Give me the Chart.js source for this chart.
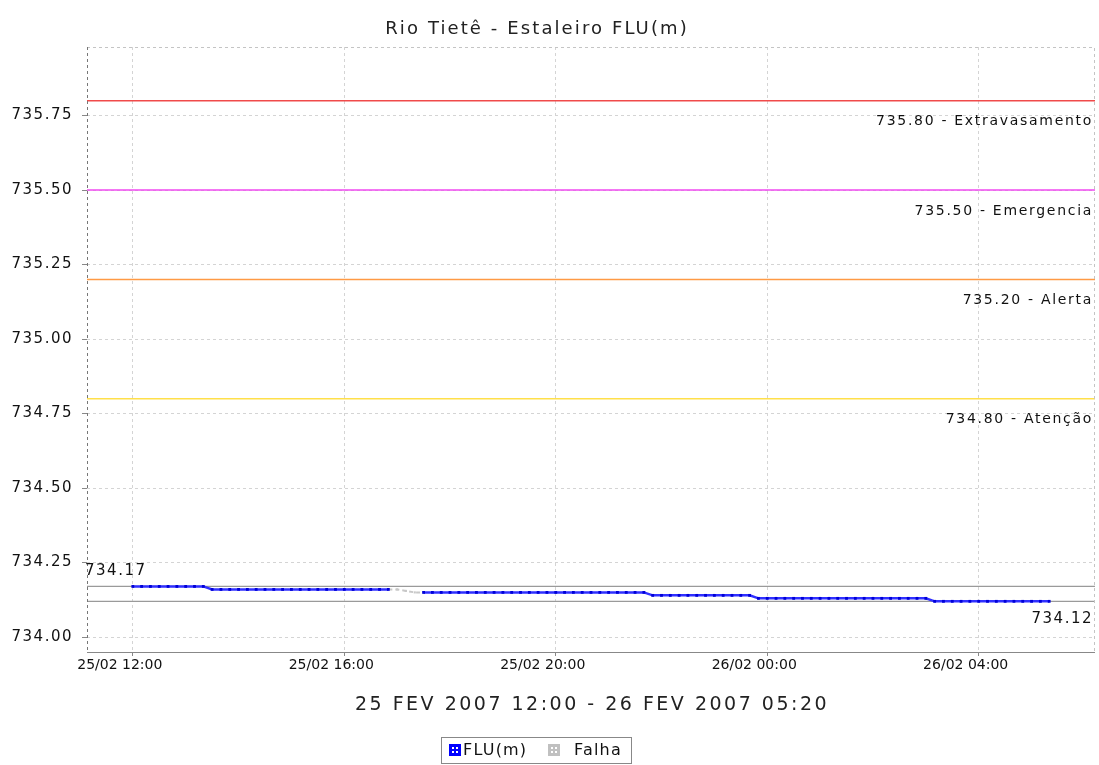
<!DOCTYPE html>
<html>
<head>
<meta charset="utf-8">
<script src="https://cdn.jsdelivr.net/npm/chart.js@4.4.1/dist/chart.umd.min.js"></script>
<style>
  html, body { margin: 0; padding: 0; background: #fff; }
  #wrap { width: 1099px; height: 765px; }
</style>
</head>
<body>
<div id="wrap"><canvas id="myChart" width="1099" height="765"></canvas></div>
<script>
// Dados do posto - leituras a cada 10 minutos
const horarios = [
  '25/02 12:00','25/02 12:10','25/02 12:20','25/02 12:30','25/02 12:40','25/02 12:50',
  '25/02 13:00','25/02 13:10','25/02 13:20','25/02 13:30','25/02 13:40','25/02 13:50',
  '25/02 14:00','25/02 14:10','25/02 14:20','25/02 14:30','25/02 14:40','25/02 14:50',
  '25/02 15:00','25/02 15:10','25/02 15:20','25/02 15:30','25/02 15:40','25/02 15:50',
  '25/02 16:00','25/02 16:10','25/02 16:20','25/02 16:30','25/02 16:40','25/02 16:50',
  '25/02 17:00','25/02 17:10','25/02 17:20','25/02 17:30','25/02 17:40','25/02 17:50',
  '25/02 18:00','25/02 18:10','25/02 18:20','25/02 18:30','25/02 18:40','25/02 18:50',
  '25/02 19:00','25/02 19:10','25/02 19:20','25/02 19:30','25/02 19:40','25/02 19:50',
  '25/02 20:00','25/02 20:10','25/02 20:20','25/02 20:30','25/02 20:40','25/02 20:50',
  '25/02 21:00','25/02 21:10','25/02 21:20','25/02 21:30','25/02 21:40','25/02 21:50',
  '25/02 22:00','25/02 22:10','25/02 22:20','25/02 22:30','25/02 22:40','25/02 22:50',
  '25/02 23:00','25/02 23:10','25/02 23:20','25/02 23:30','25/02 23:40','25/02 23:50',
  '26/02 00:00','26/02 00:10','26/02 00:20','26/02 00:30','26/02 00:40','26/02 00:50',
  '26/02 01:00','26/02 01:10','26/02 01:20','26/02 01:30','26/02 01:40','26/02 01:50',
  '26/02 02:00','26/02 02:10','26/02 02:20','26/02 02:30','26/02 02:40','26/02 02:50',
  '26/02 03:00','26/02 03:10','26/02 03:20','26/02 03:30','26/02 03:40','26/02 03:50',
  '26/02 04:00','26/02 04:10','26/02 04:20','26/02 04:30','26/02 04:40','26/02 04:50',
  '26/02 05:00','26/02 05:10','26/02 05:20'
];
const nivelFLU = [
  734.17,734.17,734.17,734.17,734.17,734.17,
  734.17,734.17,734.17,734.16,734.16,734.16,
  734.16,734.16,734.16,734.16,734.16,734.16,
  734.16,734.16,734.16,734.16,734.16,734.16,
  734.16,734.16,734.16,734.16,734.16,734.16,
  null,null,null,734.15,734.15,734.15,
  734.15,734.15,734.15,734.15,734.15,734.15,
  734.15,734.15,734.15,734.15,734.15,734.15,
  734.15,734.15,734.15,734.15,734.15,734.15,
  734.15,734.15,734.15,734.15,734.15,734.14,
  734.14,734.14,734.14,734.14,734.14,734.14,
  734.14,734.14,734.14,734.14,734.14,734.13,
  734.13,734.13,734.13,734.13,734.13,734.13,
  734.13,734.13,734.13,734.13,734.13,734.13,
  734.13,734.13,734.13,734.13,734.13,734.13,
  734.13,734.12,734.12,734.12,734.12,734.12,
  734.12,734.12,734.12,734.12,734.12,734.12,
  734.12,734.12,734.12
];
// trecho com falha de transmissao
const horariosFalha = ['25/02 16:50','25/02 17:00','25/02 17:10','25/02 17:20','25/02 17:30'];
const nivelFalha = [734.16, 734.16, 734.155, 734.15, 734.15];

// cotas de referencia
const cotasValor = [735.80, 735.50, 735.20, 734.80];
const cotasNome = ['Extravasamento', 'Emergencia', 'Alerta', 'Atenção'];
const cotasCor = ['#f04a4a', '#f04af0', '#ff9a45', '#ffe04a'];
const nivelMax = 734.17;
const nivelMin = 734.12;

const yTicks = [734.00, 734.25, 734.50, 734.75, 735.00, 735.25, 735.50, 735.75];
const xTicks = ['25/02 12:00', '25/02 16:00', '25/02 20:00', '26/02 00:00', '26/02 04:00'];
const xInicio = '25/02 11:08';
const xFim = '26/02 06:12';

// converte "dd/mm hh:mm" para minutos a partir de 25/02 00:00
function minutos(s) {
  const dia = parseInt(s.substr(0, 2), 10) - 25;
  const h = parseInt(s.substr(6, 2), 10);
  const m = parseInt(s.substr(9, 2), 10);
  return dia * 1440 + h * 60 + m;
}
function rotulo(v) {
  const dia = 25 + Math.floor(v / 1440);
  const r = v - (dia - 25) * 1440;
  const h = Math.floor(r / 60), m = r % 60;
  return dia + '/02 ' + String(h).padStart(2, '0') + ':' + String(m).padStart(2, '0');
}

const xMin = minutos(xInicio), xMax = minutos(xFim);
const fonte = "'DejaVu Sans', sans-serif";

const linhasCota = cotasValor.map((v, i) => ({
  label: 'cota' + i,
  data: [{ x: xMin, y: v }, { x: xMax, y: v }],
  borderColor: cotasCor[i], borderWidth: 1.5, pointRadius: 0
}));
const linhasExtremos = [nivelMax, nivelMin].map((v, i) => ({
  label: 'ext' + i,
  data: [{ x: xMin, y: v }, { x: xMax, y: v }],
  borderColor: '#9a9a9a', borderWidth: 1.2, pointRadius: 0
}));

// rotulos do eixo y um pouco espaçados
const espacoY = {
  id: 'espacoY',
  beforeDraw(chart) {
    const s = chart.scales.y;
    if (s._espacado) return;
    const orig = s.drawLabels;
    s.drawLabels = function (area) {
      this.ctx.save();
      this.ctx.letterSpacing = '1.5px';
      orig.call(this, area);
      this.ctx.restore();
    };
    s._espacado = true;
  }
};

// textos, titulo e legenda desenhados a mao
const textos = {
  id: 'textos',
  afterDraw(chart) {
    const c = chart.ctx, a = chart.chartArea, y = chart.scales.y;
    c.save();
    // contorno da area do grafico
    c.lineWidth = 1;
    c.strokeStyle = '#c4c4c4'; c.setLineDash([3, 3]);
    c.beginPath();
    c.moveTo(a.left, a.top + 0.5); c.lineTo(a.right - 0.5, a.top + 0.5); c.lineTo(a.right - 0.5, a.bottom);
    c.stroke();
    c.strokeStyle = '#777';
    c.beginPath(); c.moveTo(a.left + 0.5, a.top); c.lineTo(a.left + 0.5, a.bottom); c.stroke();
    c.setLineDash([]);
    c.strokeStyle = '#888';
    c.beginPath(); c.moveTo(a.left, a.bottom + 0.5); c.lineTo(a.right, a.bottom + 0.5); c.stroke();

    c.fillStyle = '#111';
    c.font = '14px ' + fonte;
    c.letterSpacing = '1.7px';
    c.textAlign = 'right'; c.textBaseline = 'middle';
    cotasValor.forEach((v, i) => {
      c.fillText(v.toFixed(2) + ' - ' + cotasNome[i], a.right - 2, y.getPixelForValue(v) + 21);
    });
    c.font = '15px ' + fonte;
    c.letterSpacing = '1.5px';
    c.fillText(nivelMin.toFixed(2), a.right - 2, y.getPixelForValue(nivelMin) + 18);
    c.textAlign = 'left';
    c.fillText(nivelMax.toFixed(2), a.left - 2, y.getPixelForValue(nivelMax) - 15);
    // titulo
    c.textAlign = 'center';
    c.font = '18px ' + fonte;
    c.letterSpacing = '2.1px';
    c.fillStyle = '#222';
    c.fillText('Rio Tietê - Estaleiro FLU(m)', 537, 29);
    // titulo do eixo x
    c.font = '19px ' + fonte;
    c.letterSpacing = '2.5px';
    c.fillText('25 FEV 2007 12:00 - 26 FEV 2007 05:20', 592, 705);
    // legenda
    c.strokeStyle = '#888';
    c.letterSpacing = '1.2px';
    c.strokeRect(441.5, 737.5, 190, 26);
    c.font = '16px ' + fonte;
    c.textAlign = 'left';
    const itens = [['FLU(m)', '#0000ff', 449, 463], ['Falha', '#c0c0c0', 548, 574]];
    itens.forEach(([t, cor, x, xt]) => {
      c.fillStyle = cor; c.fillRect(x, 744, 12, 12);
      c.fillStyle = '#fff';
      c.fillRect(x + 3, 747, 2, 2); c.fillRect(x + 7, 747, 2, 2);
      c.fillRect(x + 3, 751, 2, 2); c.fillRect(x + 7, 751, 2, 2);
      c.fillStyle = '#111';
      c.fillText(t, xt, 751);
    });
    c.restore();
  }
};

const ctx = document.getElementById('myChart').getContext('2d');
const myChart = new Chart(ctx, {
  type: 'line',
  data: {
    datasets: [
      {
        label: 'FLU(m)',
        data: horarios.map((t, i) => ({ x: minutos(t), y: nivelFLU[i] })),
        borderColor: '#3030ff', borderWidth: 2.5, spanGaps: false,
        pointStyle: 'rect', pointRadius: 2, pointBackgroundColor: '#0000d8', pointBorderWidth: 0
      },
      {
        label: 'Falha',
        data: horariosFalha.map((t, i) => ({ x: minutos(t), y: nivelFalha[i] })),
        borderColor: '#c8c8c8', borderWidth: 2, borderDash: [4, 3],
        pointStyle: 'rect', pointRadius: 1.5, pointBackgroundColor: '#c8c8c8', pointBorderWidth: 0
      },
      ...linhasExtremos,
      ...linhasCota
    ]
  },
  options: {
    responsive: false,
    animation: false,
    layout: { padding: { top: 47, right: -2, left: 0, bottom: 0 } },
    plugins: { legend: { display: false }, tooltip: { enabled: false } },
    scales: {
      x: {
        type: 'linear', min: xMin, max: xMax,
        afterBuildTicks: s => { s.ticks = xTicks.map(t => ({ value: minutos(t) })); },
        afterFit: s => { s.height = 113; },
        grid: { color: '#d4d4d4', tickLength: 4, tickColor: '#888' },
        border: { display: false, dash: [3, 3] },
        ticks: {
          callback: v => rotulo(v), maxRotation: 0, autoSkip: false, labelOffset: -13,
          color: '#111', font: { family: fonte, size: 14 }, padding: 1
        }
      },
      y: {
        min: 733.95, max: 735.98,
        afterBuildTicks: s => { s.ticks = yTicks.map(v => ({ value: v })); },
        afterFit: s => { s.width = 87; },
        grid: { color: '#d4d4d4', tickLength: 5, tickColor: '#888' },
        border: { display: false, dash: [3, 3] },
        ticks: {
          callback: v => v.toFixed(2),
          color: '#111', font: { family: fonte, size: 15 }, padding: 9
        }
      }
    }
  },
  plugins: [espacoY, textos]
});
</script>
</body>
</html>
